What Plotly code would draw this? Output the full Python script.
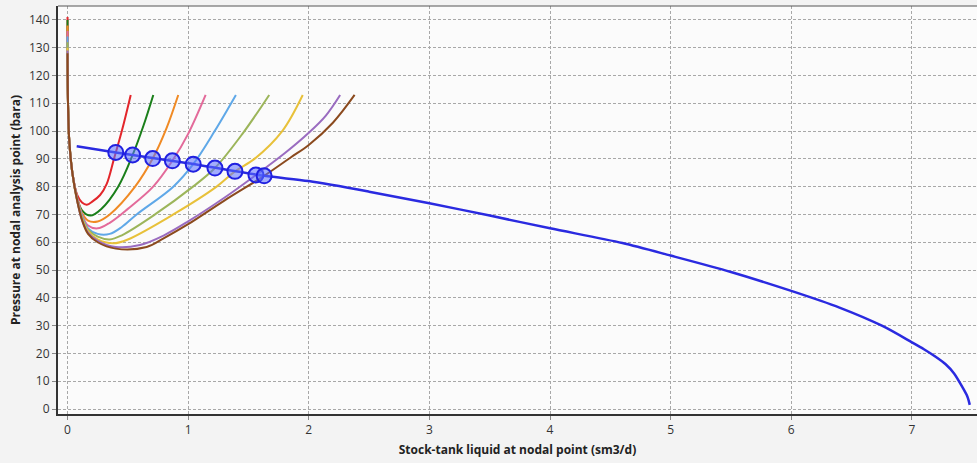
import plotly.graph_objects as go

# ---- data ----
vlp_colors = ["#e3262b", "#1a7f1a", "#f08a24", "#e36a9a", "#5fa8e8",
              "#9cb55a", "#e8c13a", "#9a6cc0", "#8b4a1e"]

red_x = [0, 0.004, 0.015, 0.04, 0.08, 0.12, 0.16, 0.21, 0.27, 0.325, 0.385, 0.45, 0.524]
red_y = [141, 110, 96, 85, 77, 74.3, 73.5, 74.8, 77, 81, 90, 100, 113]

green_x = [0, 0.004, 0.015, 0.04, 0.08, 0.12, 0.19, 0.28, 0.42, 0.54, 0.63, 0.711]
green_y = [140, 110, 96, 85, 76, 71.5, 69.6, 72, 80, 91.4, 102, 113]

orange_x = [0, 0.004, 0.015, 0.04, 0.08, 0.12, 0.17, 0.25, 0.35, 0.56, 0.706, 0.82, 0.918]
orange_y = [138, 110, 96, 85, 76, 70.5, 67.8, 67.5, 70, 80, 90.1, 101, 113]

pink_x = [0, 0.004, 0.015, 0.04, 0.08, 0.12, 0.17, 0.25, 0.35, 0.5, 0.71, 0.869, 1.0, 1.145]
pink_y = [136, 110, 96, 85, 76, 70, 66, 65, 67, 72, 80, 89.3, 99, 113]

lblue_x = [0, 0.004, 0.015, 0.04, 0.08, 0.12, 0.17, 0.25, 0.35, 0.45, 0.573, 0.877, 1.042, 1.22, 1.396]
lblue_y = [134, 110, 96, 85, 75.5, 69.5, 65, 63, 63, 65.5, 70, 80, 88.1, 100, 113]

olive_x = [0, 0.004, 0.015, 0.04, 0.08, 0.12, 0.17, 0.25, 0.35, 0.45, 0.725, 1.04, 1.222, 1.45, 1.672]
olive_y = [132, 110, 96, 85, 75, 69, 64.5, 62, 61, 62.5, 70, 80, 86.7, 99, 113]

yellow_x = [0, 0.004, 0.015, 0.04, 0.08, 0.12, 0.17, 0.25, 0.38, 0.5, 0.877, 1.236, 1.388, 1.55, 1.78, 1.95]
yellow_y = [130, 110, 96, 85, 75, 68.5, 64, 61, 59.6, 61, 70, 80, 85.5, 90, 100, 113]

purple_x = [0, 0.004, 0.015, 0.04, 0.08, 0.12, 0.17, 0.25, 0.4, 0.6, 0.8, 1.0, 1.3, 1.562, 1.8, 2.0, 2.14, 2.26]
purple_y = [129, 110, 96, 85, 75, 68, 63.5, 60.5, 58.3, 59, 62.5, 67.5, 76, 84.2, 92, 99.4, 105.5, 113]

brown_x = [0, 0.004, 0.015, 0.04, 0.08, 0.12, 0.17, 0.25, 0.4, 0.656, 0.8, 1.0, 1.3, 1.63, 1.85, 2.0, 2.2, 2.38]
brown_y = [128, 110, 96, 85, 75, 68, 63, 60, 57.7, 58.3, 61.5, 66.5, 75, 83.9, 90.5, 95, 103, 113]

vlp_x = [red_x, green_x, orange_x, pink_x, lblue_x, olive_x, yellow_x, purple_x, brown_x]
vlp_y = [red_y, green_y, orange_y, pink_y, lblue_y, olive_y, yellow_y, purple_y, brown_y]

ipr_x = [0.076, 0.4, 1.0, 1.63, 2.0, 2.5, 3.0, 3.5, 4.0, 4.6, 5.0, 5.5, 6.0, 6.4, 6.76,
         7.0, 7.1, 7.2, 7.28, 7.35, 7.42, 7.46, 7.48]
ipr_y = [94.5, 92.3, 88.4, 83.9, 82.0, 78.2, 74.0, 69.6, 65.0, 59.7, 55.2, 49.3, 42.5, 36.5, 29.8,
         24.0, 21.5, 18.7, 16.1, 12.8, 7.8, 4.5, 1.5]

op_x = [0.40, 0.54, 0.706, 0.869, 1.042, 1.222, 1.388, 1.562, 1.63]
op_y = [92.3, 91.4, 90.1, 89.3, 88.1, 86.7, 85.5, 84.2, 83.9]

x_title = "Stock-tank liquid at nodal point (sm3/d)"
y_title = "Pressure at nodal analysis point (bara)"

fig = go.Figure()
for xs, ys, c in zip(vlp_x, vlp_y, vlp_colors):
    fig.add_trace(go.Scatter(x=xs, y=ys, mode="lines",
                             line=dict(color=c, width=2, shape="spline", smoothing=1.0),
                             hoverinfo="skip", showlegend=False))

fig.add_trace(go.Scatter(x=ipr_x, y=ipr_y, mode="lines",
                         line=dict(color="#2a2ae0", width=2.5, shape="spline", smoothing=0.8),
                         showlegend=False))

fig.add_trace(go.Scatter(x=op_x, y=op_y, mode="markers",
                         marker=dict(size=15, color="rgba(90,110,255,0.55)",
                                     line=dict(color="#2020e0", width=2)),
                         showlegend=False))

axis_font = dict(family="Open Sans, DejaVu Sans, sans-serif", size=12, color="#333333")
title_font = dict(family="Open Sans, DejaVu Sans, sans-serif", size=12, color="#222222")

fig.update_layout(
    width=977, height=463,
    margin=dict(l=58, r=0, t=6, b=49),
    paper_bgcolor="#f3f3f3",
    plot_bgcolor="#fbfbfb",
    showlegend=False,
    xaxis=dict(range=[-0.079, 7.54], dtick=1, tick0=0,
               showgrid=True, gridcolor="#a8a8a8", griddash="3px,2px", gridwidth=1,
               zeroline=False, showline=True, linecolor="#333333", linewidth=2,
               ticks="outside", ticklen=4, tickcolor="#888888",
               tickfont=axis_font,
               title=dict(text="<b>" + x_title + "</b>", font=title_font, standoff=8)),
    yaxis=dict(range=[-1.8, 145], dtick=10, tick0=0,
               showgrid=True, gridcolor="#a8a8a8", griddash="3px,2px", gridwidth=1,
               zeroline=False, showline=True, linecolor="#333333", linewidth=2,
               ticks="outside", ticklen=4, tickcolor="#888888",
               tickfont=axis_font,
               title=dict(text="<b>" + y_title + "</b>", font=title_font, standoff=6)),
)

fig.add_shape(type="line", xref="paper", yref="paper", x0=0, x1=1, y0=1, y1=1,
              line=dict(color="#555555", width=1))

fig.write_html("out.html")
